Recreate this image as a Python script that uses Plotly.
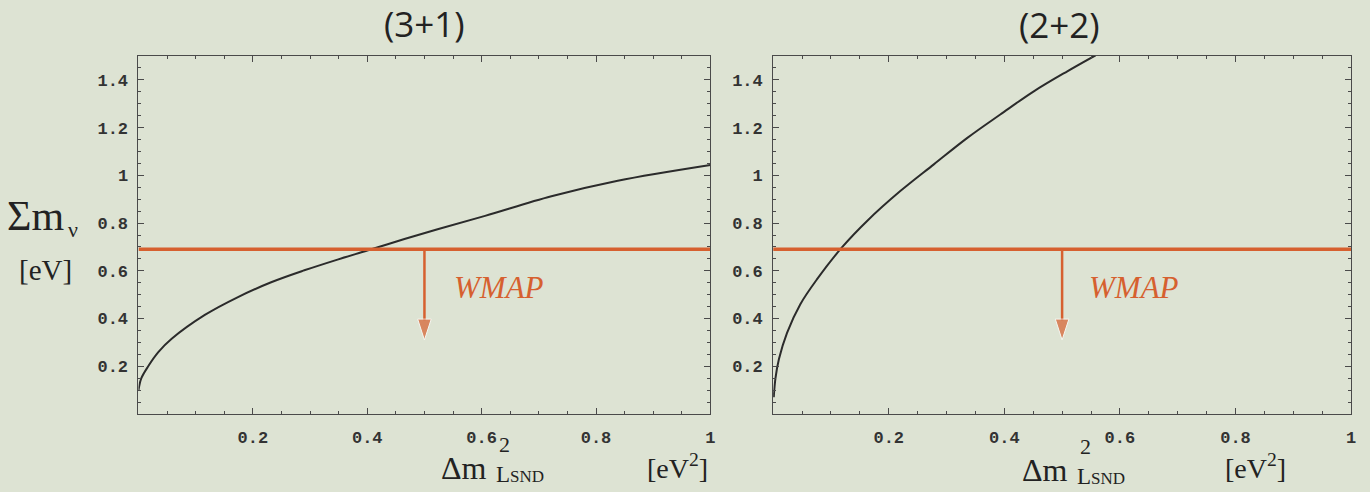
import plotly.graph_objects as go

# Sum of neutrino masses versus LSND mass splitting, two sterile schemes
dm2_31 = [0.0, 0.005, 0.017, 0.035, 0.058, 0.116, 0.174, 0.232, 0.29, 0.348,
          0.40, 0.465, 0.523, 0.606, 0.722, 0.838, 1.0]
sum_31 = [0.10, 0.15, 0.20, 0.26, 0.315, 0.415, 0.49, 0.552, 0.602, 0.647,
          0.685, 0.733, 0.774, 0.83, 0.912, 0.977, 1.043]

dm2_22 = [0.001, 0.004, 0.010, 0.024, 0.047, 0.076, 0.119, 0.163, 0.220,
          0.278, 0.336, 0.393, 0.451, 0.509, 0.558]
sum_22 = [0.07, 0.15, 0.23, 0.34, 0.46, 0.565, 0.698, 0.81, 0.934,
          1.046, 1.157, 1.255, 1.352, 1.436, 1.503]

wmap_bound = 0.69
wmap_arrow_x = 0.5
wmap_arrow_tip = 0.31

panel_titles = ["(3+1)", "(2+2)"]
x_tick_vals = [0.2, 0.4, 0.6, 0.8, 1.0]
x_tick_text = ["0.2", "0.4", "0.6", "0.8", "1"]
y_tick_vals = [0.2, 0.4, 0.6, 0.8, 1.0, 1.2, 1.4]
y_tick_text = ["0.2", "0.4", "0.6", "0.8", "1", "1.2", "1.4"]

W, H = 1370, 492
BG = "#dde3d3"
ORANGE = "#d6602f"
CURVE = "#2b2b2b"
FRAME = "#4a4a4a"

fig = go.Figure()

panels = [("x", "y", dm2_31, sum_31), ("x2", "y2", dm2_22, sum_22)]
for xa, ya, xs, ys in panels:
    fig.add_trace(go.Scatter(x=xs, y=ys, xaxis=xa, yaxis=ya, mode="lines",
                             line=dict(color=CURVE, width=2, shape="spline", smoothing=1.0),
                             hoverinfo="skip", showlegend=False))
    fig.add_trace(go.Scatter(x=[0, 1], y=[wmap_bound, wmap_bound], xaxis=xa, yaxis=ya,
                             mode="lines", line=dict(color=ORANGE, width=3.5),
                             hoverinfo="skip", showlegend=False))
    # downward arrow marking the excluded region
    fig.add_trace(go.Scatter(x=[wmap_arrow_x, wmap_arrow_x], y=[wmap_bound, wmap_arrow_tip],
                             xaxis=xa, yaxis=ya, mode="lines+markers",
                             line=dict(color=ORANGE, width=2.5),
                             marker=dict(symbol="arrow", size=[0, 22], angleref="previous",
                                         color=ORANGE, standoff=0),
                             hoverinfo="skip", showlegend=False))

tick_font = dict(family="Liberation Mono", size=17, color="#333333", weight="bold")
axis_common = dict(
    showline=True, linecolor=FRAME, linewidth=1, mirror="allticks",
    ticks="inside", ticklen=6, tickwidth=1, tickcolor=FRAME,
    showgrid=False, zeroline=False, tickfont=tick_font,
    minor=dict(ticks="inside", ticklen=3, tickwidth=1, tickcolor=FRAME, dtick=0.05, tick0=0),
)

dom_y = [1 - 414 / H, 1 - 56 / H]
fig.update_layout(
    width=W, height=H, margin=dict(l=0, r=0, t=0, b=0),
    paper_bgcolor=BG, plot_bgcolor=BG,
    xaxis=dict(domain=[139 / W, 713 / W], range=[0, 1], anchor="y",
               tickvals=x_tick_vals, ticktext=x_tick_text, ticklabelstandoff=8, **axis_common),
    yaxis=dict(domain=dom_y, range=[0, 1.5], anchor="x",
               tickvals=y_tick_vals, ticktext=y_tick_text, ticklabelstandoff=6, **axis_common),
    xaxis2=dict(domain=[776 / W, 1356 / W], range=[0, 1], anchor="y2",
                tickvals=x_tick_vals, ticktext=x_tick_text, ticklabelstandoff=8, **axis_common),
    yaxis2=dict(domain=dom_y, range=[0, 1.5], anchor="x2",
                tickvals=y_tick_vals, ticktext=y_tick_text, ticklabelstandoff=6, **axis_common),
)


def note(text, px, py, size, family="Liberation Serif", color="#222222", **kw):
    fig.add_annotation(text=text, x=px / W, y=1 - py / H, xref="paper", yref="paper",
                       xanchor="center", yanchor="middle", showarrow=False,
                       font=dict(family=family, size=size, color=color, **kw))


# panel titles
note(panel_titles[0], 426, 23, 35, family="Open Sans")
note(panel_titles[1], 1063, 25, 35, family="Open Sans")

# y-axis label
note("Σm", 36, 216, 42)
note("ν", 73, 229, 22)
note("[eV]", 46, 270, 29)

# x-axis labels for both panels
for dx in (0, 583):
    note("Δm", 466 + dx, 468 + (2 if dx else 0), 32)
    note("2", 506 + dx, 444 + (2 if dx else 0), 22)
    note("L<span style='font-size:17px'>SND</span>", 522 + dx, 474 + (2 if dx else 0), 23)
    note("[eV<sup>2</sup>]", 680 + dx - (3 if dx else 0), 466, 28)

# WMAP labels
note("WMAP", 501, 287, 31, color=ORANGE, style="italic")
note("WMAP", 1138, 287, 31, color=ORANGE, style="italic")

fig.write_html("out.html")
